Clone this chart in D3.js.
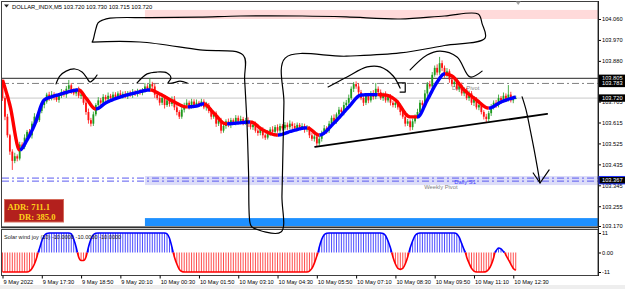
<!DOCTYPE html>
<html>
<head>
<meta charset="utf-8">
<title>DOLLAR_INDX,M5</title>
<script src="https://cdn.jsdelivr.net/npm/d3@7"></script>
<style>
  body { margin: 0; background: #ffffff; }
  #chart { display: block; font-family: "Liberation Sans", Arial, sans-serif; }
</style>
</head>
<body>
<svg id="chart" width="625" height="289"></svg>
<script>
// prices are kept in points above 103.000 (1 point = 0.001)
const firstOpen = 790;
const closes = [
  720,640,560,490,450,470,460,520,510,550,
  575,560,610,640,625,665,690,705,735,720,
  735,725,712,730,745,735,760,775,750,740,
  755,730,735,700,660,625,610,650,690,710,
  700,725,715,730,720,735,725,740,730,738,
  728,742,735,745,738,748,742,755,770,760,
  780,770,735,720,700,720,690,710,695,715,
  680,660,640,670,690,700,685,705,690,700,
  695,705,680,690,665,640,655,610,625,580,
  600,620,605,625,615,635,620,630,615,625,
  610,595,605,580,570,585,560,550,570,585,
  575,595,580,600,590,605,595,610,600,590,
  605,595,600,585,590,560,545,555,525,545,
  570,590,580,610,635,620,650,670,660,690,
  700,720,760,780,770,745,720,700,730,710,
  740,725,760,745,720,735,710,725,700,690,
  700,680,660,640,610,620,595,620,640,660,
  700,690,740,780,770,820,850,830,870,850,
  820,835,800,780,790,760,775,740,755,720,
  740,700,715,680,690,660,640,630,655,680,
  700,690,720,710,730,715,735,710,720,720
];
const wickUp = [
  10,8,12,6,10,15,8,12,10,14,
  8,12,10,15,9,12,10,14,8,12,
  15,10,12,9,14,10,12,23,10,12,
  8,14,10,9,12,15,10,12,8,14,
  10,12,9,14,8,12,10,9,14,10,
  12,8,10,14,9,12,10,8,15,10,
  26,10,12,8,14,10,12,9,10,12,
  14,10,8,12,10,15,9,12,10,14,
  8,12,10,14,9,12,10,8,12,10,
  14,9,12,10,8,12,10,14,9,10,
  12,10,8,14,9,12,10,8,12,10,
  14,9,12,10,8,12,10,14,9,12,
  10,8,12,10,14,9,12,10,8,12,
  10,14,9,12,10,15,8,12,10,14,
  12,15,10,9,12,14,10,12,8,12,
  10,14,25,10,12,9,14,10,12,8,
  12,10,14,9,12,10,8,12,10,14,
  12,10,15,9,14,12,10,15,27,12,
  10,14,9,12,10,14,8,12,10,9,
  12,10,14,9,12,10,8,12,10,14,
  10,12,15,9,14,10,41,12,10,10
];
const wickDn = [
  12,15,10,14,39,10,12,8,14,10,
  12,9,14,10,12,8,10,14,9,12,
  10,14,8,12,10,9,14,10,12,8,
  12,10,14,9,12,15,12,10,8,12,
  9,12,10,8,14,10,12,9,10,12,
  8,12,10,14,9,12,8,10,12,9,
  12,10,14,9,12,10,15,8,12,10,
  12,14,10,9,12,8,14,10,12,9,
  10,12,8,14,10,12,9,14,10,12,
  9,12,10,14,8,12,10,9,12,10,
  14,10,12,9,12,10,14,10,8,12,
  10,12,9,14,10,8,12,10,14,9,
  12,10,8,14,10,12,9,12,15,10,
  12,9,14,10,12,8,10,12,9,14,
  10,12,8,14,10,12,9,14,10,12,
  9,12,10,14,8,12,10,9,12,10,
  12,10,14,9,12,10,15,12,10,8,
  12,10,9,14,10,12,8,12,10,14,
  12,9,14,10,12,8,14,10,12,9,
  12,10,14,9,12,10,12,13,10,12,
  9,12,10,14,8,12,10,9,12,5
];

// moving average read at some bars
const maBars = [0,3,7,10,13,17,20,24,28,31,34,38,42,48,54,60,64,70,75,79,82,86,91,96,101,106,112,118,124,129,135,141,146,151,156,160,166,169,173,177,180,183,188,193,198,203,209];
const maPoints = [798,690,497,540,604,712,725,738,750,755,720,673,699,725,742,755,738,703,682,686,695,656,609,613,617,583,561,579,592,561,613,682,733,735,733,712,639,639,712,789,824,815,755,712,677,703,725];

// "Solar wind joy" oscillator, one value per bar
const solarWind = [
  -11,-11,-11,-11,-11,-11,-11,-11,-11,-11,
  -11,-10.5,-9,-6.5,-2.5,2,6.5,9.5,10.7,11,
  11,11,11,11,11,11,11,11,10.5,7.5,
  3,-2.5,-4.5,-4.5,-2.5,3,7.5,10,10.8,11,
  11,11,11,11,11,11,11,11,11,11,
  11,11,11,11,11,11,11,11,11,11,
  11,11,11,11,11,11,11,10.5,8,3,
  -2.5,-6.5,-9.5,-10.7,-11,-11,-11,-11,-11,-11,
  -11,-11,-11,-11,-11,-11,-11,-11,-11,-11,
  -11,-11,-11,-11,-11,-11,-11,-11,-11,-11,
  -11,-11,-11,-11,-11,-11,-11,-11,-11,-11,
  -11,-11,-11,-11,-11,-11,-11,-11,-11,-11,
  -11,-11,-11,-11,-11,-10.5,-9,-6,-2,3,
  7.5,10,10.8,11,11,11,11,11,11,11,
  11,11,11,11,11,11,11,11,11,11,
  11,11,11,11,11,10.7,9.5,6.5,2.5,-2.5,
  -6.5,-9,-9.5,-9,-6.5,-2.5,2.5,6.5,9.5,10.7,
  11,11,11,11,11,11,11,11,11,11,
  11,11,11,11,11,10.5,8.5,5,1.5,-2.5,
  -6,-9,-10.5,-11,-11,-11,-11,-10.7,-9.5,-7,
  -3,1,2.5,2,0.5,-1.5,-4,-6.5,-9,-10
];

const priceTicks = [104.060, 103.970, 103.880, 103.705, 103.615, 103.525, 103.435, 103.345, 103.255, 103.170];
const boxPrices = [103.805, 103.783, 103.720, 103.367];
const subTicks = [11, 0, -11];
const subTickLabels = ["11", "0.00", "-11"];
const timeLabelBars = [0,16,32,48,64,80,96,112,128,144,160,176,192,208];
const timeLabels = ["9 May 2022","9 May 17:30","9 May 18:50","9 May 20:10","10 May 00:30","10 May 01:50",
  "10 May 03:10","10 May 04:30","10 May 05:50","10 May 07:10","10 May 08:30","10 May 09:50","10 May 11:10","10 May 12:30"];

// levels
const highLevel = 103.805;
const dailyPivot = 103.783;
const bidPrice = 103.720;
const dailyS1 = 103.376;
const weeklyPivot = 103.363;
const pinkZone = [104.060, 104.099];
const s1Zone = [103.346, 103.385];
const blueZone = [103.170, 103.204];
const zoneStartBar = 58;

// hand drawn marks, [bar, points]
const sketchLoop = [[36.5,961],[36.9,970],[37.7,1004],[38.9,1043],[40.9,1056],[43.8,1064],[60,1066],[80,1068],[97,1073],[122,1073],[140,1069],[161.9,1060],[180,1073],[193.7,1081],[195.3,1040],[196.5,978],[180,946],[161.9,914],[140,900],[115.1,892],[114.6,700],[114.3,540],[113.8,300],[113.4,144],[101.6,166],[100.8,183],[100.2,400],[99.6,600],[98.6,800],[98,905],[80.4,927],[56,961],[36.5,961]];
const arcA = [[21.8,781],[23.4,815],[25.9,836],[29.5,845],[32.4,832],[34.4,806],[35.6,789],[37.3,802],[38.5,819]];
const arcB = [[54.8,785],[58.9,824],[62.9,832],[67,828],[68.6,806],[67.4,785],[69.4,785],[72.3,793],[75.2,785]];
const arcC = [[132.6,768],[140.3,811],[148.5,854],[153.8,854],[159.1,815],[161.9,763]];
const hookC = [[161.1,785],[164,785],[164,746],[161.9,746]];
const arcD = [[166,841],[172.9,905],[178.2,922],[185.1,897],[190.4,811],[195.3,836]];
const supportLine = [[127.3,510],[221.8,652]];
const arrowShaft = [[211.6,725],[213.2,669],[214.9,583],[216.9,475],[218.9,355]];
const arrowHead = [[216.1,398],[218.9,355],[222.6,411]];

const toPrice = pt => 103 + pt / 1000;

class MtChart {
  constructor(_config) {
    this.config = {
      parentElement: _config.parentElement,
      containerWidth: _config.containerWidth || 625,
      containerHeight: _config.containerHeight || 289,
      main: { left: 2, right: 598, top: 2, bottom: 227 },
      sub: { top: 229, bottom: 275 }
    };
    this.initVis();
  }

  initVis() {
    let vis = this;
    const m = vis.config.main;

    vis.svg = d3.select(vis.config.parentElement);

    // one bar every ~2.46px
    vis.xScale = d3.scaleLinear().domain([0, 242.5]).range([2.5, m.right]);
    vis.yScale = d3.scaleLinear().domain([103.170, 104.060]).range([226, 19]);
    vis.ySub = d3.scaleLinear().domain([-11, 11]).range([272, 233]);

    vis.bars = closes.map((c, i) => {
      const o = i === 0 ? firstOpen : closes[i - 1];
      return { i, o, c, h: Math.max(o, c) + wickUp[i], l: Math.min(o, c) - wickDn[i] };
    });

    vis.svg.append("rect").attr("width", vis.config.containerWidth).attr("height", vis.config.containerHeight).attr("fill", "#fff");
    vis.svg.append("rect").attr("y", 285).attr("width", vis.config.containerWidth).attr("height", 4).attr("fill", "#eeeeee");

    vis.svg.append("defs").append("clipPath").attr("id", "mainClip")
      .append("rect").attr("x", m.left).attr("y", m.top)
      .attr("width", m.right - m.left).attr("height", m.bottom - m.top);

    vis.render();
  }

  render() {
    let vis = this;
    vis.drawLevels();
    vis.drawCandles();
    vis.drawMA();
    vis.drawSub();
    vis.drawFrame();
    vis.drawAxes();
    vis.drawSketch();
    vis.drawInfo();
  }

  drawLevels() {
    let vis = this;
    const m = vis.config.main;
    const g = vis.svg.append("g").attr("clip-path", "url(#mainClip)");
    const x0 = vis.xScale(zoneStartBar);

    const zone = (z, color) => g.append("rect")
      .attr("x", x0).attr("width", m.right - x0)
      .attr("y", vis.yScale(z[1])).attr("height", vis.yScale(z[0]) - vis.yScale(z[1]))
      .attr("fill", color);
    zone(pinkZone, "#ffdada");
    zone(s1Zone, "#dcdcf8");
    zone(blueZone, "#1e90ff");

    const hline = (p, color, w, dash) => g.append("line")
      .attr("x1", m.left).attr("x2", m.right)
      .attr("y1", vis.yScale(p)).attr("y2", vis.yScale(p))
      .attr("stroke", color).attr("stroke-width", w)
      .attr("stroke-dasharray", dash);
    hline(bidPrice, "#c8c8c8", 1, null);
    hline(highLevel, "#505050", 1.3, null);
    hline(dailyPivot, "#808080", 1, "7,3,2,3");
    hline(dailyS1, "#5a5af0", 1, "7,3,2,3");
    hline(weeklyPivot, "#5a5af0", 1, "7,3,2,3");

    // level names
    g.append("text").attr("x", vis.xScale(183)).attr("y", vis.yScale(dailyPivot) + 7)
      .attr("font-size", 5.8).attr("fill", "#808080").text("Daily Pivot");
    g.append("text").attr("x", vis.xScale(171.7)).attr("y", vis.yScale(weeklyPivot) + 7.5)
      .attr("font-size", 5.8).attr("fill", "#808080").text("Weekly Pivot");
    g.append("text").attr("x", vis.xScale(184)).attr("y", vis.yScale(dailyS1) + 5.5)
      .attr("font-size", 5.8).attr("fill", "#4040ff").text("Daily S1");
  }

  drawCandles() {
    let vis = this;
    const up = "#1f9a1f", down = "#ff1010";
    const g = vis.svg.append("g").attr("clip-path", "url(#mainClip)");
    const py = v => vis.yScale(toPrice(v));

    g.selectAll("line.wick").data(vis.bars).join("line")
      .attr("class", "wick")
      .attr("x1", d => vis.xScale(d.i)).attr("x2", d => vis.xScale(d.i))
      .attr("y1", d => py(d.h)).attr("y2", d => py(d.l))
      .attr("stroke", d => d.c >= d.o ? up : down)
      .attr("stroke-width", 0.8);

    g.selectAll("rect.body").data(vis.bars).join("rect")
      .attr("class", "body")
      .attr("x", d => vis.xScale(d.i) - 0.9)
      .attr("width", 1.8)
      .attr("y", d => py(Math.max(d.o, d.c)))
      .attr("height", d => Math.max(0.8, py(Math.min(d.o, d.c)) - py(Math.max(d.o, d.c))))
      .attr("fill", d => d.c >= d.o ? up : down);
  }

  drawMA() {
    let vis = this;
    const g = vis.svg.append("g").attr("clip-path", "url(#mainClip)");
    const line = d3.line()
      .x(d => vis.xScale(d[0]))
      .y(d => vis.yScale(toPrice(d[1])))
      .curve(d3.curveMonotoneX);

    // sample the curve and colour it by direction: blue rising, red falling
    const tmp = g.append("path").attr("d", line(d3.zip(maBars, maPoints))).attr("fill", "none");
    const node = tmp.node();
    const len = node.getTotalLength();
    let runs = [], cur = null, prev = node.getPointAtLength(0), prevColor = "#ff0000";
    for (let s = 0.8; s <= len + 0.8; s += 0.8) {
      const p = node.getPointAtLength(Math.min(s, len));
      let color = prevColor;
      if (p.y < prev.y - 0.02) color = "#0000ff";
      else if (p.y > prev.y + 0.02) color = "#ff0000";
      if (!cur || color !== cur.color) {
        cur = { color, pts: [[prev.x, prev.y]] };
        runs.push(cur);
      }
      cur.pts.push([p.x, p.y]);
      prev = p;
      prevColor = color;
    }
    tmp.remove();

    g.selectAll("path.ma").data(runs).join("path")
      .attr("class", "ma")
      .attr("d", d => d3.line()(d.pts))
      .attr("fill", "none")
      .attr("stroke", d => d.color)
      .attr("stroke-width", 3.4)
      .attr("stroke-linejoin", "round");
  }

  drawSub() {
    let vis = this;
    const g = vis.svg.append("g");
    const y0 = vis.ySub(0);
    const blue = "#0000ff", red = "#ff0000";

    g.selectAll("line.hatch").data(solarWind).join("line")
      .attr("class", "hatch")
      .attr("x1", (d, i) => vis.xScale(i)).attr("x2", (d, i) => vis.xScale(i))
      .attr("y1", y0).attr("y2", d => vis.ySub(d))
      .attr("stroke", d => d >= 0 ? blue : red)
      .attr("stroke-width", 0.7);

    // outline of each same-sign run
    let runs = [];
    solarWind.forEach((v, i) => {
      const pos = v >= 0;
      if (!runs.length || runs[runs.length - 1].pos !== pos) runs.push({ pos, pts: [] });
      runs[runs.length - 1].pts.push([i, v]);
    });
    const line = d3.line().x(d => vis.xScale(d[0])).y(d => vis.ySub(d[1])).curve(d3.curveMonotoneX);
    runs.forEach((r, k) => {
      let pts = r.pts.slice();
      if (k > 0) pts.unshift([pts[0][0] - 0.5, 0]);
      if (k < runs.length - 1) pts.push([pts[pts.length - 1][0] + 0.5, 0]);
      g.append("path").attr("d", line(pts))
        .attr("fill", "none")
        .attr("stroke", r.pos ? blue : red)
        .attr("stroke-width", 1.6);
    });

    g.append("text").attr("x", 4).attr("y", 238.5).attr("font-size", 5.6).attr("fill", "#202020")
      .text("Solar wind joy (10) -10.0000 -10.0000 -10.0000");
  }

  drawFrame() {
    let vis = this;
    const m = vis.config.main, s = vis.config.sub;
    vis.svg.append("rect").attr("x", m.left - 0.5).attr("y", m.top - 0.5)
      .attr("width", m.right - m.left + 0.5).attr("height", m.bottom - m.top + 0.5)
      .attr("fill", "none").attr("stroke", "#404040").attr("stroke-width", 1);
    vis.svg.append("line").attr("x1", m.left - 1).attr("x2", m.right)
      .attr("y1", m.bottom + 0.5).attr("y2", m.bottom + 0.5)
      .attr("stroke", "#303030").attr("stroke-width", 1.6);
    vis.svg.append("rect").attr("x", m.left - 0.5).attr("y", s.top + 0.5)
      .attr("width", m.right - m.left + 0.5).attr("height", s.bottom - s.top)
      .attr("fill", "none").attr("stroke", "#404040").attr("stroke-width", 1);
  }

  drawAxes() {
    let vis = this;
    const m = vis.config.main, s = vis.config.sub;
    const font = "Liberation Sans, Arial, sans-serif";

    const yAxisG = vis.svg.append("g")
      .attr("transform", `translate(${m.right},0)`)
      .call(d3.axisRight(vis.yScale).tickValues(priceTicks).tickFormat(d3.format(".3f")).tickSize(3))
      .attr("font-size", 5.7).attr("font-family", font);
    yAxisG.select(".domain").remove();
    yAxisG.selectAll("text").attr("x", 4);

    const subAxisG = vis.svg.append("g")
      .attr("transform", `translate(${m.right},0)`)
      .call(d3.axisRight(vis.ySub).tickValues(subTicks).tickFormat((d, i) => subTickLabels[i]).tickSize(3))
      .attr("font-size", 5.7).attr("font-family", font);
    subAxisG.select(".domain").remove();
    subAxisG.selectAll("text").attr("x", 4);

    const xAxisG = vis.svg.append("g")
      .attr("transform", `translate(0,${s.bottom + 0.5})`)
      .call(d3.axisBottom(vis.xScale).tickValues(timeLabelBars).tickFormat((d, i) => timeLabels[i]).tickSize(3))
      .attr("font-size", 5.7).attr("font-family", font);
    xAxisG.select(".domain").remove();
    xAxisG.selectAll("text").attr("text-anchor", "start").attr("x", 0.5).attr("y", 4);

    // right axis line
    vis.svg.append("line").attr("x1", m.right + 0.5).attr("x2", m.right + 0.5)
      .attr("y1", m.top - 1).attr("y2", s.bottom + 1)
      .attr("stroke", "#202020").attr("stroke-width", 1);

    // price boxes
    const boxG = vis.svg.append("g").attr("font-family", font).attr("font-size", 5.7);
    boxPrices.forEach(p => {
      const y = vis.yScale(p);
      boxG.append("rect").attr("x", m.right + 1).attr("y", y - 3.7)
        .attr("width", 27).attr("height", 7.4)
        .attr("fill", "#000")
        .attr("stroke", p === 103.367 ? "#2030ff" : "none").attr("stroke-width", 1);
      boxG.append("text").attr("x", m.right + 4).attr("y", y).attr("dy", "0.36em")
        .attr("fill", "#fff").text(d3.format(".3f")(p));
    });
  }

  drawSketch() {
    let vis = this;
    const g = vis.svg.append("g").attr("fill", "none").attr("stroke", "#000")
      .attr("stroke-linecap", "round").attr("stroke-linejoin", "round");
    const curve = d3.line()
      .x(d => vis.xScale(d[0])).y(d => vis.yScale(toPrice(d[1])))
      .curve(d3.curveCatmullRom.alpha(0.5));
    const straight = d3.line()
      .x(d => vis.xScale(d[0])).y(d => vis.yScale(toPrice(d[1])));

    [sketchLoop, arcA, arcB, arcC, arcD, arrowShaft].forEach(pts => {
      g.append("path").attr("d", curve(pts)).attr("stroke-width", 1.2);
    });
    g.append("path").attr("d", straight(hookC)).attr("stroke-width", 1.2);
    g.append("path").attr("d", straight(arrowHead)).attr("stroke-width", 1.2);
    g.append("path").attr("d", straight(supportLine)).attr("stroke-width", 1.8);
  }

  drawInfo() {
    let vis = this;
    const font = "Liberation Sans, Arial, sans-serif";

    // header
    vis.svg.append("path").attr("d", "M4,4.5 L9,4.5 L6.5,7.5 Z").attr("fill", "#202020");
    vis.svg.append("text").attr("x", 12).attr("y", 8.6)
      .attr("font-family", font).attr("font-size", 5.8).attr("fill", "#000")
      .text("DOLLAR_INDX,M5  103.720 103.730 103.715 103.720");

    // chart shift marker
    const sx = vis.xScale(closes.length);
    vis.svg.append("path").attr("d", `M${sx - 2.5},1.5 L${sx + 2.5},1.5 L${sx},5 Z`).attr("fill", "#a0a0a0");

    // ADR box
    const box = vis.svg.append("g");
    box.append("rect").attr("x", 4.5).attr("y", 199.5).attr("width", 59).attr("height", 22.5)
      .attr("fill", "#b3201d").attr("stroke", "#d46a5a").attr("stroke-width", 1);
    box.append("text").attr("x", 7.5).attr("y", 209.5)
      .attr("font-family", "Liberation Serif, serif").attr("font-weight", "bold")
      .attr("font-size", 8.6).attr("fill", "#ffd21a").text("ADR: 711.1");
    box.append("text").attr("x", 55.5).attr("y", 219.5).attr("text-anchor", "end")
      .attr("font-family", "Liberation Serif, serif").attr("font-weight", "bold")
      .attr("font-size", 8.6).attr("fill", "#ffd21a").text("DR: 385.0");
  }
}

new MtChart({ parentElement: "#chart" });
</script>
</body>
</html>
